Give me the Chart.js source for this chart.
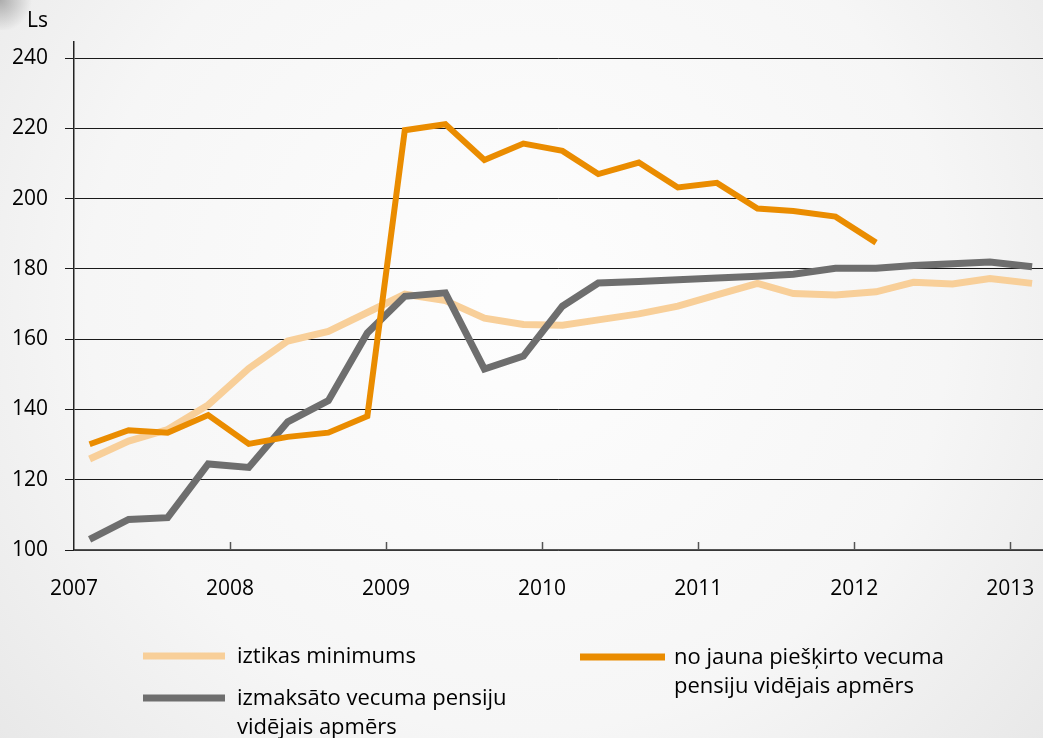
<!DOCTYPE html>
<html>
<head>
<meta charset="utf-8">
<script src="https://cdn.jsdelivr.net/npm/chart.js@4/dist/chart.umd.min.js"></script>
<style>
  html, body { margin: 0; padding: 0; background: #efefef; }
  #wrap { width: 1043px; height: 738px; position: relative; }
</style>
</head>
<body>
<div id="wrap"><canvas id="c" width="1043" height="738"></canvas></div>
<script>
// ---- data ----
const periods = [2007.10, 2007.35, 2007.60, 2007.86, 2008.12, 2008.37, 2008.63, 2008.88,
                 2009.12, 2009.38, 2009.63, 2009.88, 2010.13, 2010.36, 2010.62, 2010.87,
                 2011.12, 2011.38, 2011.61, 2011.88, 2012.14, 2012.38, 2012.63, 2012.87, 2013.14];
const iztikasMinimums = [125.9, 131.0, 134.3, 141.3, 151.7, 159.5, 162.2, 167.6,
                         172.8, 171.0, 166.0, 164.2, 164.0, 165.5, 167.2, 169.4,
                         172.6, 175.9, 173.0, 172.6, 173.5, 176.2, 175.7, 177.3, 175.9];
const izmaksatoPensija = [103.0, 108.7, 109.2, 124.5, 123.5, 136.5, 142.5, 161.8,
                          172.2, 173.2, 151.5, 155.2, 169.4, 176.0, 176.4, 176.9,
                          177.4, 177.9, 178.5, 180.2, 180.2, 181.0, 181.5, 182.0, 180.6];
const jaunaPensija = [130.1, 134.1, 133.4, 138.4, 130.2, 132.2, 133.4, 138.1,
                      219.5, 221.2, 211.0, 215.7, 213.6, 207.0, 210.3, 203.2,
                      204.5, 197.2, 196.5, 194.9, 187.5, null, null, null, null];
const yearTicks = [2007, 2008, 2009, 2010, 2011, 2012, 2013];
const yTicks = [100, 120, 140, 160, 180, 200, 220, 240];
const unitLabel = 'Ls';
const seriesNames = [
  ['iztikas minimums'],
  ['izmaksāto vecuma pensiju', 'vidējais apmērs'],
  ['no jauna piešķirto vecuma', 'pensiju vidējais apmērs']
];
const colors = { beige: '#F8CF99', gray: '#6E6E6E', orange: '#EA8C00' };

function toPoints(vals) {
  const out = [];
  vals.forEach((v, i) => { if (v !== null) out.push({ x: periods[i], y: v }); });
  return out;
}

const FONT = "'Open Sans', 'DejaVu Sans', sans-serif";

const bgPlugin = {
  id: 'bg',
  beforeDraw(chart) {
    const ctx = chart.ctx;
    const w = chart.width, h = chart.height;
    ctx.save();
    const g = ctx.createRadialGradient(520, 300, 30, 520, 300, 760);
    g.addColorStop(0, '#fdfdfd');
    g.addColorStop(0.55, '#f6f6f6');
    g.addColorStop(1, '#e4e4e4');
    ctx.fillStyle = g;
    ctx.fillRect(0, 0, w, h);
    const g2 = ctx.createRadialGradient(0, 0, 0, 0, 0, 32);
    g2.addColorStop(0, 'rgba(120,120,120,0.55)');
    g2.addColorStop(1, 'rgba(120,120,120,0)');
    ctx.fillStyle = g2;
    ctx.fillRect(0, 0, 40, 30);
    ctx.restore();
  }
};

const decoPlugin = {
  id: 'deco',
  afterDraw(chart) {
    const ctx = chart.ctx;
    const xs = chart.scales.x, ys = chart.scales.y;
    ctx.save();
    ctx.font = '21px ' + FONT;
    ctx.fillStyle = '#000';
    ctx.textAlign = 'left';
    ctx.textBaseline = 'alphabetic';
    ctx.fillText(unitLabel, 27, 27);
    ctx.strokeStyle = '#555';
    ctx.lineWidth = 1.5;
    const yb = ys.getPixelForValue(100);
    yearTicks.slice(1).forEach(yr => {
      const px = Math.round(xs.getPixelForValue(yr)) + 0.5;
      ctx.beginPath();
      ctx.moveTo(px, yb);
      ctx.lineTo(px, yb - 8);
      ctx.stroke();
    });
    const items = [
      { name: seriesNames[0], color: colors.beige, x1: 143, x2: 225, y: 656, w: 7, tx: 237 },
      { name: seriesNames[1], color: colors.gray, x1: 143, x2: 225, y: 698, w: 7, tx: 237 },
      { name: seriesNames[2], color: colors.orange, x1: 580, x2: 665, y: 657, w: 7, tx: 674 }
    ];
    items.forEach(it => {
      ctx.strokeStyle = it.color;
      ctx.lineWidth = it.w;
      ctx.lineCap = 'butt';
      ctx.beginPath();
      ctx.moveTo(it.x1, it.y);
      ctx.lineTo(it.x2, it.y);
      ctx.stroke();
      ctx.fillStyle = '#000';
      ctx.font = '22px ' + FONT;
      ctx.textBaseline = 'alphabetic';
      it.name.forEach((line, j) => {
        ctx.fillText(line, it.tx, it.y + 7 + j * 29);
      });
    });
    ctx.restore();
  }
};

new Chart(document.getElementById('c'), {
  type: 'line',
  data: {
    datasets: [
      { label: seriesNames[0].join(' '), data: toPoints(iztikasMinimums), borderColor: colors.beige,
        borderWidth: 7, order: 3 },
      { label: seriesNames[1].join(' '), data: toPoints(izmaksatoPensija), borderColor: colors.gray,
        borderWidth: 7, order: 2 },
      { label: seriesNames[2].join(' '), data: toPoints(jaunaPensija), borderColor: colors.orange,
        borderWidth: 6, order: 1 }
    ]
  },
  options: {
    responsive: false,
    animation: false,
    devicePixelRatio: 1,
    layout: { padding: { top: 42, left: 0, right: 0, bottom: 0 } },
    elements: {
      point: { radius: 0, hoverRadius: 0 },
      line: { tension: 0, borderJoinStyle: 'miter', borderCapStyle: 'butt', fill: false }
    },
    plugins: { legend: { display: false }, tooltip: { enabled: false }, title: { display: false } },
    scales: {
      x: {
        type: 'linear',
        min: 2007,
        max: 2013.21,
        afterBuildTicks(s) { s.ticks = yearTicks.map(v => ({ value: v })); },
        afterFit(s) { s.height = 188; s.paddingLeft = 0; s.paddingRight = 0; },
        ticks: {
          callback: v => String(v),
          font: { family: FONT, size: 21 },
          color: '#000',
          padding: 26,
          maxRotation: 0,
          autoSkip: false
        },
        grid: { display: true, drawOnChartArea: false, drawTicks: false },
        border: { display: true, color: '#555', width: 1.5 }
      },
      y: {
        min: 100,
        max: 244.6,
        afterBuildTicks(s) { s.ticks = yTicks.map(v => ({ value: v })); },
        afterFit(s) { s.width = 74; s.paddingTop = 0; s.paddingBottom = 0; },
        ticks: {
          font: { family: FONT, size: 21 },
          color: '#000',
          padding: 17
        },
        grid: { color: '#1a1a1a', lineWidth: 1, tickLength: 9, drawTicks: true },
        border: { display: true, color: '#222', width: 1.5 }
      }
    }
  },
  plugins: [bgPlugin, decoPlugin]
});
</script>
</body>
</html>
